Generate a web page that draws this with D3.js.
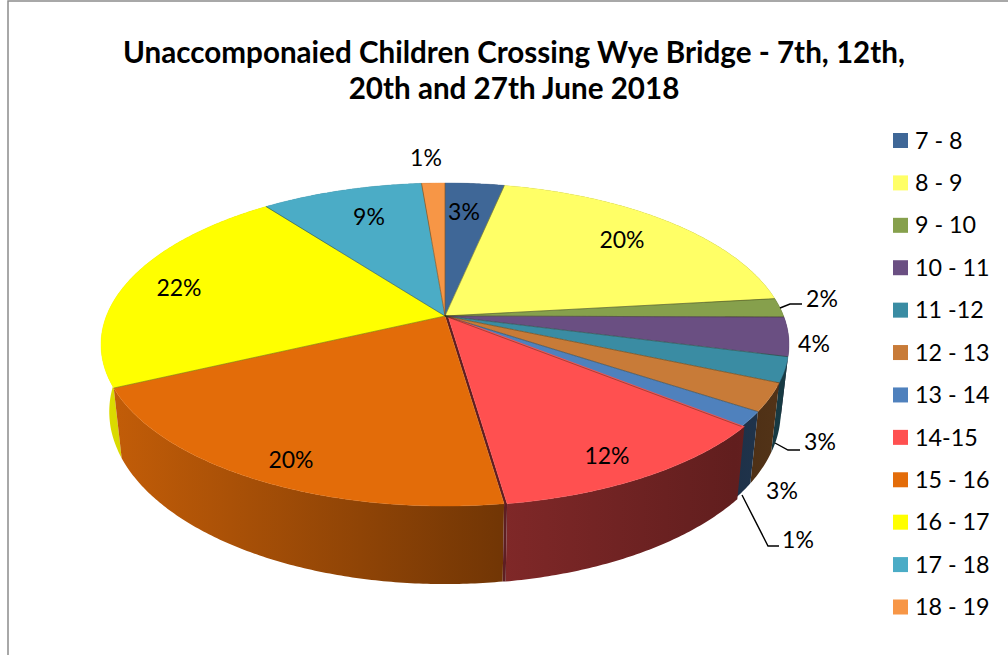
<!DOCTYPE html>
<html><head><meta charset="utf-8">
<script src="https://cdn.jsdelivr.net/npm/d3@7/dist/d3.min.js"></script>
<style>html,body{margin:0;padding:0;background:#fff;overflow:hidden}svg{display:block}text{font-family:Lato,"Open Sans",sans-serif;fill:#000}</style>
</head><body><svg id="c" width="1008" height="655"></svg>
<script>
const categories=["7 - 8","8 - 9","9 - 10","10 - 11","11 -12","12 - 13","13 - 14","14-15","15 - 16","16 - 17","17 - 18","18 - 19"];
const shares=[3.3,19.9,1.9,3.9,2.5,2.8,1.5,11.9,20.3,21.7,9.0,1.3];
const percentLabels=["3%","20%","2%","4%","3%","3%","1%","12%","20%","22%","9%","1%"];
const colours=["#3f6797","#ffff66","#86a04c","#6a4f82","#3a8ca3","#c87b38","#4f81bd","#ff5050","#e36c09","#ffff00","#4bacc6","#f79646"];
const titleLines=["Unaccomponaied Children Crossing Wye Bridge - 7th, 12th,","20th and 27th June 2018"];
// layout only
const labelAnchors=[[464,212],[622,240],[822,299],[814,344],[820,442],[782,491],[798,540],[607,456],[291,460],[179,288],[369,217],[426,158]];
const leaders=[[[780,308],[790,304],[802,304]],[[775,443],[788,450],[800,450]],[[742,495],[768,546],[779,546]]];

const svg=d3.select("#c");
const cx=445,k=0.1765,R=338.6,B=156.5,topY=316,botY=381.3,botXs=0.976,botYs=1.067;
function proj(a,level){
  const s=Math.sin(a),c=Math.cos(a),w=1+k*c,x=R*s/w,y=-B*c/w;
  return level===0?[cx+x,topY+y]:[cx+x*botXs,botY+y*botYs];
}
const pie=d3.pie().sort(null).value(d=>d)(shares);
const shade=d3.scaleLinear().domain([100,500,735,790]).range([.87,.5,.38,.42]).clamp(true);
const explode=i=>i===7?[3,0]:[0,0];
const line=d3.line();
const arcAngles=p=>{const n=Math.max(2,Math.ceil((p.endAngle-p.startAngle)/0.01));return d3.range(n+1).map(j=>p.startAngle+(p.endAngle-p.startAngle)*j/n);};

// frame
svg.append("path").attr("d","M8,655V1H1008").attr("fill","none").attr("stroke","#8c8c8c").attr("stroke-width",1.5);

// wall gradients
const defs=svg.append("defs");
colours.forEach((col,i)=>{
  const g=defs.append("linearGradient").attr("id","w"+i).attr("gradientUnits","userSpaceOnUse")
    .attr("x1",100).attr("x2",790).attr("y1",0).attr("y2",0);
  const c=d3.rgb(col);
  shade.domain().forEach(x=>{
    const s=shade(x);
    g.append("stop").attr("offset",(x-100)/690).attr("stop-color",d3.rgb(c.r*s,c.g*s,c.b*s).formatHex());
  });
});

// walls, back to front
const walls=pie.map((p,i)=>{
  const as=arcAngles(p),[ex,ey]=explode(i);
  const pts=as.map(a=>proj(a,0)).concat(as.slice().reverse().map(a=>proj(a,1))).map(q=>[q[0]+ex,q[1]+ey]);
  return {i,pts,my:d3.mean(pts,q=>q[1])};
}).sort((a,b)=>a.my-b.my);
svg.append("g").selectAll("path").data(walls).join("path")
  .attr("d",d=>line(d.pts)+"Z").attr("fill",d=>`url(#w${d.i})`);

// cut face of the pulled-out slice
{const p=pie[7],[ex,ey]=explode(7),t=proj(p.endAngle,0),b=proj(p.endAngle,1);
 svg.append("path").attr("d",line([[cx,topY],[t[0],t[1]],[b[0],b[1]],[b[0]+ex,b[1]+ey],[t[0]+ex,t[1]+ey],[cx+ex,topY+ey]])+"Z").attr("fill","#5e1e22");}

// top faces
const facePts=p=>[[cx,topY]].concat(arcAngles(p).map(a=>proj(a,0)));
svg.append("g").selectAll("path").data(pie).join("path")
  .attr("d",d=>line(facePts(d))+"Z")
  .attr("transform",(d,i)=>`translate(${explode(i)})`)
  .attr("fill",(d,i)=>colours[i]).attr("stroke",(d,i)=>colours[i]).attr("stroke-width",.4);
svg.append("g").selectAll("path").data(pie.filter((d,i)=>i!==8)).join("path")
  .attr("d",d=>line([[cx,topY],proj(d.startAngle,0)]))
  .attr("stroke","#2b2b10").attr("stroke-opacity",.4).attr("stroke-width",1).attr("fill","none");

// title
svg.append("g").selectAll("text").data(titleLines).join("text")
  .attr("x",514).attr("y",(d,i)=>63+i*36).attr("text-anchor","middle")
  .attr("font-size",29.6).attr("font-weight",700).text(d=>d);

// leaders and labels
svg.append("g").selectAll("path").data(leaders).join("path")
  .attr("d",d=>line(d)).attr("fill","none").attr("stroke","#000").attr("stroke-width",1.4);
svg.append("g").selectAll("text").data(percentLabels).join("text")
  .attr("x",(d,i)=>labelAnchors[i][0]).attr("y",(d,i)=>labelAnchors[i][1]).attr("dy","0.35em")
  .attr("text-anchor","middle").attr("font-size",23).text(d=>d);

// legend
const ly=d3.scalePoint().domain(categories).range([140.5,607]);
const lg=svg.append("g").selectAll("g").data(categories).join("g").attr("transform",d=>`translate(893,${ly(d)})`);
lg.append("rect").attr("y",-7.5).attr("width",15).attr("height",15).attr("fill",(d,i)=>colours[i]);
lg.append("text").attr("x",22).attr("dy","0.35em").attr("font-size",23.3).text(d=>d);
</script></body></html>
